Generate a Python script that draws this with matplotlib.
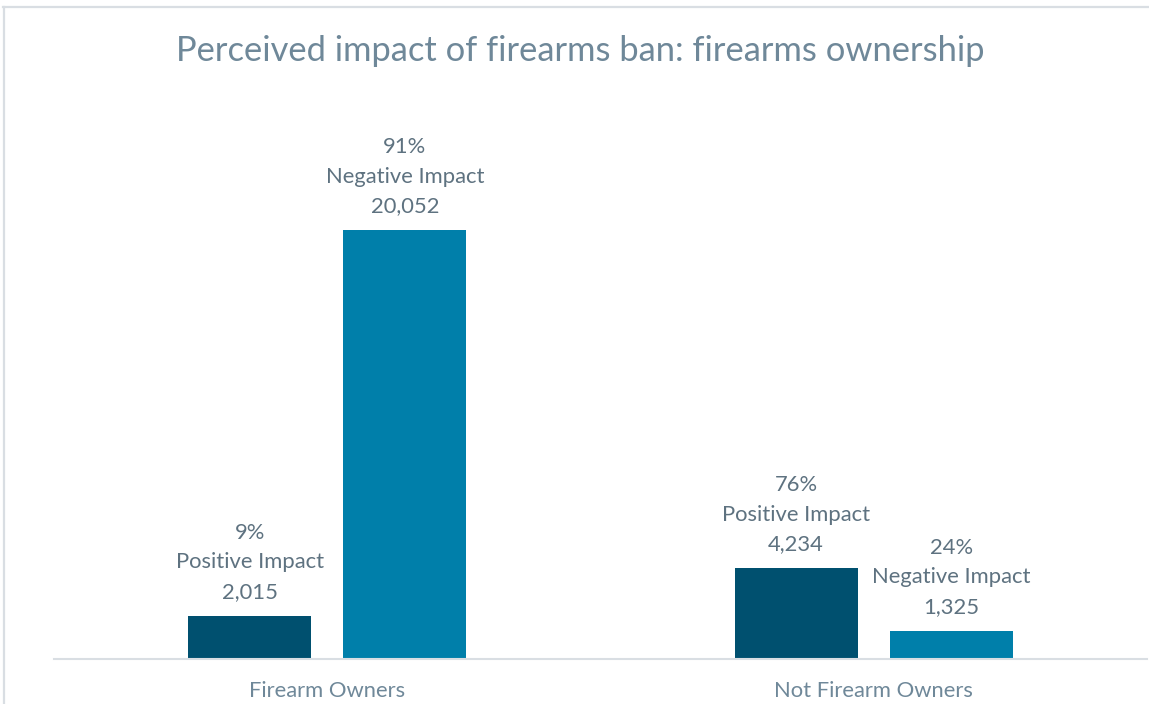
import matplotlib.pyplot as plt
from matplotlib.lines import Line2D

# Survey results: perceived impact of a firearms ban, split by ownership
groups = ["Firearm Owners", "Not Firearm Owners"]
series = ["Positive Impact", "Negative Impact"]
counts_positive = [2015, 4234]
counts_negative = [20052, 1325]
pct_positive = ["9%", "76%"]
pct_negative = ["91%", "24%"]

title = "Perceived impact of firearms ban: firearms ownership"

dark_blue = "#00506F"
light_blue = "#007FAA"
label_color = "#5E7280"
title_color = "#6F8899"
axis_color = "#D9DEE3"
font = ["Lato", "DejaVu Sans"]

W, H = 1149, 704
fig = plt.figure(figsize=(W / 100, H / 100), dpi=100)

# axes placed in pixel terms
left_px, right_px, base_px, top_px = 54, 1147, 659, 90
ax = fig.add_axes([left_px / W, (H - base_px) / H,
                   (right_px - left_px) / W, (base_px - top_px) / H])

offset = 0.142
width = 0.225
xs = range(len(groups))
bars_pos = ax.bar([x - offset for x in xs], counts_positive, width=width,
                  color=dark_blue)
bars_neg = ax.bar([x + offset for x in xs], counts_negative, width=width,
                  color=light_blue)

ax.set_xlim(-0.5, 1.5)
ax.set_ylim(0, 26600)

for bars, pcts, name in ((bars_pos, pct_positive, series[0]),
                         (bars_neg, pct_negative, series[1])):
    for bar, pct in zip(bars, pcts):
        value = bar.get_height()
        ax.annotate(f"{pct}\n{name}\n{value:,.0f}",
                    xy=(bar.get_x() + bar.get_width() / 2, value),
                    xytext=(0, 10), textcoords="offset points",
                    ha="center", va="bottom", fontsize=15.8, linespacing=1.6,
                    color=label_color, family=font)

ax.set_xticks(list(xs))
ax.set_xticklabels(groups, fontsize=15.8, color=title_color, family=font)
ax.tick_params(axis="x", length=0, pad=16)
ax.set_yticks([])
for side in ("left", "right", "top"):
    ax.spines[side].set_visible(False)
ax.spines["bottom"].set_color(axis_color)
ax.spines["bottom"].set_linewidth(1.5)

fig.text(580 / W, 1 - 51 / H, title, ha="center", va="center",
         fontsize=24.8, color=title_color, family=font)

# chart-area frame
fig.add_artist(Line2D([3 / W, 1], [1 - 6.5 / H, 1 - 6.5 / H],
                      transform=fig.transFigure, color=axis_color, lw=1.6))
fig.add_artist(Line2D([3.5 / W, 3.5 / W], [0, 1 - 6.5 / H],
                      transform=fig.transFigure, color=axis_color, lw=1.6))

fig.savefig("out.png", dpi=100)
